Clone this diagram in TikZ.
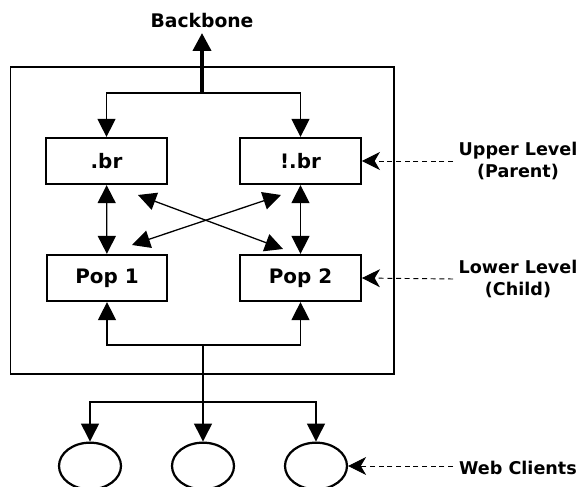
\documentclass[tikz,border=0pt]{standalone}
\usepackage{fontspec}
\setmainfont{DejaVu Sans}
\usetikzlibrary{arrows.meta,shapes.geometric}
\begin{document}
\begin{tikzpicture}[x=0.03cm, y=-0.03cm, line width=1.1pt,
		font=\bfseries\fontsize{15}{19}\selectfont,
		>={Triangle[length=5.4mm,width=5.4mm]},
		box/.style={draw, line width=1.9pt, minimum width=3.62cm, minimum height=1.38cm, inner sep=0pt, font=\bfseries\fontsize{17}{20}\selectfont},
		client/.style={draw, ellipse, line width=1.9pt, minimum width=1.86cm, minimum height=1.4cm, inner sep=0pt},
		dashline/.style={dash pattern=on 0.15cm off 0.11cm, line width=0.8pt, -{Stealth[length=5.4mm,width=5.4mm,inset=1.6mm]}}]
		\useasboundingbox (0,0) rectangle (581,487);
		\clip (0,0) rectangle (581,487);
		% frame
		\draw (10.5,67) rectangle (394,374);
		% routers
		\node[box] (br) at (106.5,161) {.br};
		\node[box] (ibr) at (300.5,161) {!.br};
		\node[box] (pop1) at (107,278) {Pop 1};
		\node[box] (pop2) at (300.5,278) {Pop 2};
		% clients
		\node[client] (c1) at (90,466) {};
		\node[client] (c2) at (203,466) {};
		\node[client] (c3) at (316,466) {};
		% labels
		\node[font=\bfseries\fontsize{16}{19}\selectfont] (bb) at (202,21) {Backbone};
		\node[align=center] (upper) at (518,161) {Upper Level\\(Parent)};
		\node[align=center] (lower) at (518,279) {Lower Level\\(Child)};
		\node (web) at (518,468) {Web Clients};
		% backbone
		\coordinate (top) at (202,93);
		\coordinate (bbtip) at (202,33);
		\draw[line width=3.4pt, ->] (top) -- (bbtip);
		\draw[<->] (br.north) |- (top) -| (ibr.north);
		% levels
		\draw[<->] (br) -- (pop1);
		\draw[<->] (ibr) -- (pop2);
		\coordinate (x1) at (138,195);
		\coordinate (x2) at (283,249);
		\coordinate (x3) at (281,195);
		\coordinate (x4) at (132,245);
		\draw[<->] (x1) -- (x2);
		\draw[<->] (x3) -- (x4);
		% down to clients
		\coordinate (bm) at (203,345);
		\coordinate (cm) at (203,402);
		\draw[<->] (pop1.south) |- (bm) -| (pop2.south);
		\draw[->] (bm) -- (c2);
		\draw[<->] (c1) |- (cm) -| (c3);
		% dashed pointers
		\coordinate (ud) at (453,161);
		\coordinate (ld) at (453,279);
		\coordinate (wd) at (453,466);
		\draw[dashline] (ud) -- (ibr.east);
		\draw[dashline] (ld) -- (pop2.east);
		\draw[dashline] (wd) -- (c3.east);
\end{tikzpicture}
\end{document}
